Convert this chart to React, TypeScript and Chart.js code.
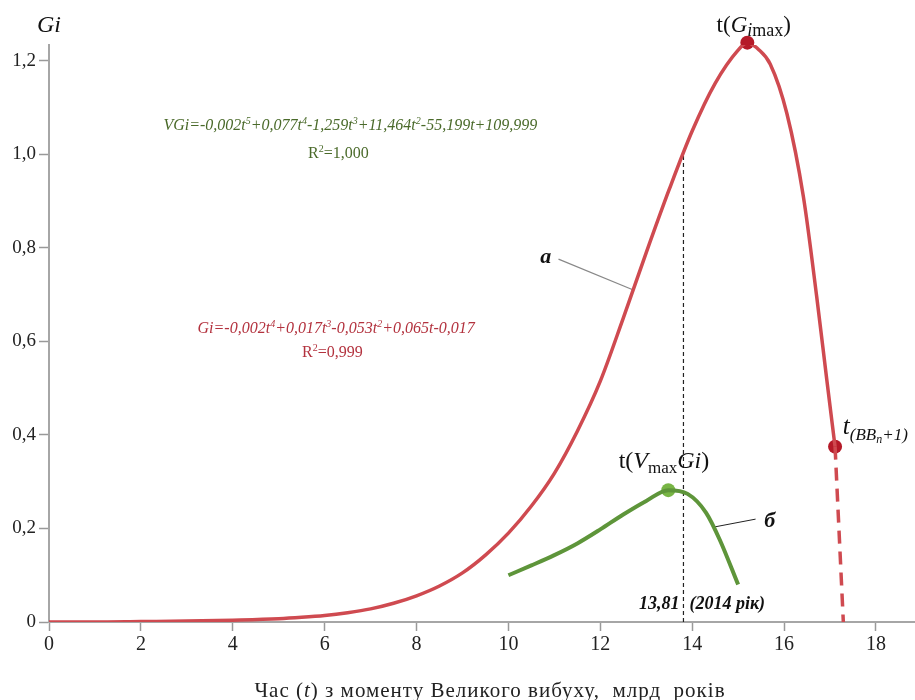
import React, { useEffect, useRef } from "react";
import { Chart, registerables } from "chart.js";

Chart.register(...registerables);

// Curve "а" (Gi)
const redT = [0, 1, 2, 3, 4, 5, 5.5, 6, 6.5, 7, 7.5, 8, 8.5, 9, 9.5, 10, 10.5, 11, 11.5, 12, 12.5, 13, 13.5, 14, 14.5, 15, 15.2, 15.45, 15.7, 16.06, 16.42, 16.71, 16.93, 17.11];
const redV = [0, 0, 0.001, 0.002, 0.004, 0.007, 0.01, 0.014, 0.02, 0.028, 0.04, 0.056, 0.077, 0.105, 0.143, 0.19, 0.248, 0.318, 0.408, 0.515, 0.65, 0.79, 0.925, 1.05, 1.152, 1.223, 1.239, 1.224, 1.193, 1.088, 0.91, 0.696, 0.518, 0.375];
// dashed continuation
const redDashT = [17.11, 17.29];
const redDashV = [0.375, 0];
// Curve "б" (VGi)
const greenT = [10, 10.5, 11, 11.5, 12, 12.5, 13, 13.48, 13.9, 14.3, 14.6, 15.0];
const greenV = [0.1, 0.121, 0.143, 0.168, 0.198, 0.23, 0.259, 0.282, 0.274, 0.234, 0.176, 0.08];
// Marked points
const redPtsT = [15.2, 17.11];
const redPtsV = [1.239, 0.375];
const greenPtT = [13.48];
const greenPtV = [0.282];
// Year marker
const markerT = 13.81;
const markerTop = 1.003;
const xTicks = [0, 2, 4, 6, 8, 10, 12, 14, 16, 18];
const yTicks = [0, 0.2, 0.4, 0.6, 0.8, 1.0, 1.2];

const SERIF = '"Liberation Serif", "Times New Roman", serif';
const f = (size: number, style = "") => `${style} ${size}px ${SERIF}`.trim();

type Seg = { t: string; font: string; dy?: number };

function drawRich(ctx: CanvasRenderingContext2D, x: number, y: number, segs: Seg[], align: "left" | "center" | "right", color: string, spacing = 0) {
  ctx.save();
  ctx.fillStyle = color;
  ctx.textBaseline = "alphabetic";
  ctx.textAlign = "left";
  (ctx as any).letterSpacing = spacing + "px";
  let w = 0;
  for (const s of segs) {
    ctx.font = s.font;
    w += ctx.measureText(s.t).width;
  }
  let cx = align === "left" ? x : align === "center" ? x - w / 2 : x - w;
  for (const s of segs) {
    ctx.font = s.font;
    ctx.fillText(s.t, cx, y + (s.dy || 0));
    cx += ctx.measureText(s.t).width;
  }
  ctx.restore();
}

const toPts = (xs: number[], ys: number[]) => xs.map((x, i) => ({ x, y: ys[i] }));

const annot = {
  id: "annot",
  beforeDatasetsDraw(chart: any) {
    const ctx = chart.ctx as CanvasRenderingContext2D;
    const xs = chart.scales.x, ys = chart.scales.y;
    const px = (t: number) => xs.getPixelForValue(t);
    const py = (v: number) => ys.getPixelForValue(v);
    ctx.save();
    ctx.strokeStyle = "#222";
    ctx.lineWidth = 1.2;
    ctx.setLineDash([4, 3]);
    ctx.beginPath();
    ctx.moveTo(px(markerT), py(0));
    ctx.lineTo(px(markerT), py(markerTop));
    ctx.stroke();
    ctx.restore();
    ctx.save();
    ctx.strokeStyle = "#888";
    ctx.lineWidth = 1.2;
    ctx.beginPath();
    ctx.moveTo(px(11.09), py(0.776));
    ctx.lineTo(px(12.72), py(0.71));
    ctx.stroke();
    ctx.strokeStyle = "#222";
    ctx.lineWidth = 1;
    ctx.beginPath();
    ctx.moveTo(px(15.38), py(0.22));
    ctx.lineTo(px(14.47), py(0.203));
    ctx.stroke();
    ctx.restore();
  },
  afterDraw(chart: any) {
    const ctx = chart.ctx as CanvasRenderingContext2D;
    const xs = chart.scales.x, ys = chart.scales.y;
    const px = (t: number) => xs.getPixelForValue(t);
    const py = (v: number) => ys.getPixelForValue(v);
    const green = "#4a6a2a";
    const red = "#b3323e";
    const black = "#111";
    drawRich(ctx, px(0), py(1.262), [{ t: "Gi", font: f(24, "italic") }], "center", black);
    const ge = f(16, "italic"), gs = f(10, "italic");
    drawRich(ctx, px(6.56), py(1.052), [
      { t: "VGi=-0,002t", font: ge }, { t: "5", font: gs, dy: -6 },
      { t: "+0,077t", font: ge }, { t: "4", font: gs, dy: -6 },
      { t: "-1,259t", font: ge }, { t: "3", font: gs, dy: -6 },
      { t: "+11,464t", font: ge }, { t: "2", font: gs, dy: -6 },
      { t: "-55,199t+109,999", font: ge },
    ], "center", green);
    drawRich(ctx, px(6.3), py(0.993), [
      { t: "R", font: f(16) }, { t: "2", font: f(10), dy: -6 }, { t: "=1,000", font: f(16) },
    ], "center", green);
    drawRich(ctx, px(6.25), py(0.618), [
      { t: "Gi=-0,002t", font: ge }, { t: "4", font: gs, dy: -6 },
      { t: "+0,017t", font: ge }, { t: "3", font: gs, dy: -6 },
      { t: "-0,053t", font: ge }, { t: "2", font: gs, dy: -6 },
      { t: "+0,065t-0,017", font: ge },
    ], "center", red);
    drawRich(ctx, px(6.17), py(0.567), [
      { t: "R", font: f(16) }, { t: "2", font: f(10), dy: -6 }, { t: "=0,999", font: f(16) },
    ], "center", red);
    drawRich(ctx, px(15.34), py(1.262), [
      { t: "t(", font: f(23) }, { t: "G", font: f(23, "italic") },
      { t: "i", font: f(18, "italic"), dy: 4 }, { t: "max", font: f(18), dy: 4 }, { t: ")", font: f(23) },
    ], "center", black);
    drawRich(ctx, px(12.4), py(0.329), [
      { t: "t(", font: f(24) }, { t: "V", font: f(24, "italic") },
      { t: "max", font: f(17), dy: 5 }, { t: "Gi", font: f(24, "italic") }, { t: ")", font: f(24) },
    ], "left", black);
    drawRich(ctx, px(17.28), py(0.402), [
      { t: "t", font: f(25, "italic") }, { t: "(BB", font: f(17, "italic"), dy: 6 },
      { t: "n", font: f(12, "italic"), dy: 9 }, { t: "+1)", font: f(17, "italic"), dy: 6 },
    ], "left", black);
    const bi = f(18, "italic bold");
    drawRich(ctx, px(markerT) - 4, py(0.028), [{ t: "13,81", font: bi }], "right", black);
    drawRich(ctx, px(markerT) + 6, py(0.028), [{ t: "(2014 рік)", font: bi }], "left", black);
    drawRich(ctx, px(10.81), py(0.768), [{ t: "а", font: f(22, "italic bold") }], "center", black);
    drawRich(ctx, px(15.69), py(0.203), [{ t: "б", font: f(22, "italic bold") }], "center", black);
    const tf = f(21);
    drawRich(ctx, 490, 697, [
      { t: "Час (", font: tf }, { t: "t", font: f(21, "italic") },
      { t: ") з моменту Великого вибуху,  млрд  років", font: tf },
    ], "center", "#222", 1);
  },
};

export default function App() {
  const ref = useRef<HTMLCanvasElement | null>(null);
  useEffect(() => {
    if (!ref.current) return;
    const chart = new Chart(ref.current, {
      type: "scatter",
      data: {
        datasets: [
          {
            data: toPts(redT, redV), showLine: true, borderColor: "#cf4a50", borderWidth: 3.5,
            pointRadius: 0, cubicInterpolationMode: "monotone", fill: false,
          },
          {
            data: toPts(redDashT, redDashV), showLine: true, borderColor: "#cf4a50", borderWidth: 3.5,
            borderDash: [13, 8], pointRadius: 0,
          },
          {
            data: toPts(greenT, greenV), showLine: true, borderColor: "#5e953a", borderWidth: 4,
            pointRadius: 0, cubicInterpolationMode: "monotone",
          },
          {
            data: toPts(redPtsT, redPtsV), showLine: false, pointRadius: 7,
            pointBackgroundColor: "#b51a28", pointBorderWidth: 0, clip: false as any,
          },
          {
            data: toPts(greenPtT, greenPtV), showLine: false, pointRadius: 7,
            pointBackgroundColor: "#78b545", pointBorderWidth: 0,
          },
        ] as any,
      },
      options: {
        animation: false,
        responsive: false,
        events: [],
        layout: { autoPadding: false, padding: { top: 45, right: 0, left: 0, bottom: 0 } },
        plugins: { legend: { display: false }, tooltip: { enabled: false }, title: { display: false } },
        scales: {
          x: {
            type: "linear", min: 0, max: 18.85,
            afterFit: (s: any) => { s.height = 78; s.paddingLeft = 0; s.paddingRight = 0; },
            afterBuildTicks: (s: any) => { s.ticks = xTicks.map((v) => ({ value: v })); },
            ticks: { font: { family: SERIF, size: 20 }, color: "#222", padding: 2, maxRotation: 0, autoSkip: false, callback: (v: any) => String(v) },
            grid: { drawOnChartArea: false, drawTicks: true, tickLength: 9, tickColor: "#999", tickWidth: 1.5 },
            border: { color: "#a6a6a6", width: 2 },
          },
          y: {
            type: "linear", min: 0, max: 1.234,
            afterFit: (s: any) => { s.width = 49; s.paddingTop = 0; s.paddingBottom = 0; },
            afterBuildTicks: (s: any) => { s.ticks = yTicks.map((v) => ({ value: v })); },
            ticks: {
              font: { family: SERIF, size: 19 }, color: "#222", padding: 3, autoSkip: false,
              callback: (v: any) => (Math.abs(v) < 1e-9 ? "0" : Number(v).toFixed(1).replace(".", ",")),
            },
            grid: { drawOnChartArea: false, drawTicks: true, tickLength: 10, tickColor: "#999", tickWidth: 1.5 },
            border: { color: "#a6a6a6", width: 2 },
          },
        },
      } as any,
      plugins: [annot],
    });
    return () => chart.destroy();
  }, []);
  return (
    <canvas
      ref={ref}
      width={915}
      height={700}
      style={{ position: "absolute", left: 0, top: 0, width: 915, height: 700, display: "block", background: "#fff" }}
    />
  );
}
